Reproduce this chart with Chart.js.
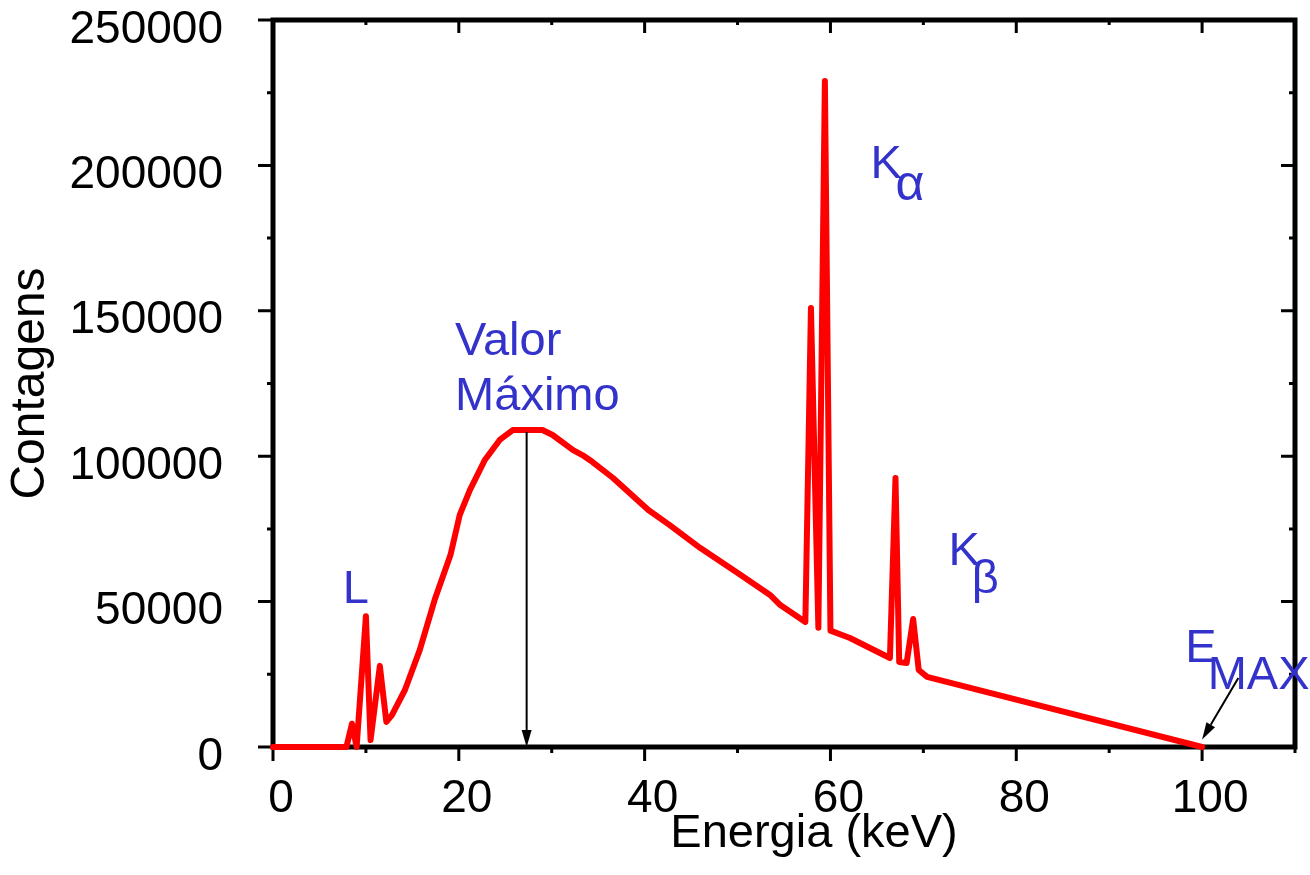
<!DOCTYPE html>
<html>
<head>
<meta charset="utf-8">
<script src="https://cdn.jsdelivr.net/npm/chart.js@4/dist/chart.umd.min.js"></script>
<style>
  html, body { margin: 0; padding: 0; background: #fff; }
  #wrap { width: 1310px; height: 875px; }
</style>
</head>
<body>
<div id="wrap"><canvas id="spectrum"></canvas></div>
<script>
// spectrum (keV, counts)
const energy = [0, 7.9, 8.5, 9.0, 10.0, 10.5, 11.5, 12.2, 12.8, 14.2, 15.8, 17.4, 19.1, 20.1,
  21.2, 22.8, 24.4, 25.8, 29.0, 30.1, 32.3, 33.3, 34.4, 36.6, 40.4, 42.7, 46.0, 50.3, 53.5,
  54.6, 57.3, 57.9, 58.7, 59.4, 60.0, 62.1, 66.4, 67.0, 67.4, 68.2, 68.9, 69.5, 70.4, 100];
const counts = [0, 0, 8000, 0, 45000, 2400, 27900, 8600, 11000, 19600, 33400, 50600, 66000, 79800,
  88400, 98700, 105600, 109000, 109000, 107300, 102100, 100400, 98000, 92500, 81500, 76300, 68400, 59200, 52300,
  48800, 43000, 151000, 41000, 229000, 40000, 37500, 30600, 92500, 29200, 28900, 44000, 26500, 24100, 0];

const xTicks = [0, 20, 40, 60, 80, 100];
const yTicks = [0, 50000, 100000, 150000, 200000, 250000];
const xMinorStep = 10;
const yMinorStep = 25000;

// labels placed in data units
const notes = [
  { text: "L", x: 7.5, y: 49500, size: 47 },
  { text: "Valor", x: 19.6, y: 134800, size: 47 },
  { text: "Máximo", x: 19.6, y: 115900, size: 47 },
  { text: "K", x: 64.3, y: 195700, size: 47 },
  { text: "α", x: 67.0, y: 188200, size: 50 },
  { text: "K", x: 72.7, y: 62600, size: 47 },
  { text: "β", x: 75.2, y: 53000, size: 47 },
  { text: "E", x: 98.2, y: 29200, size: 47 },
  { text: "MAX", x: 100.6, y: 20000, size: 47 }
];
const peakArrow = { x: 27.3, from: 108300, to: 0 };
const emaxArrow = { x1: 103.9, y1: 23700, x2: 100, y2: 2600 };

const FONT = "Arial, 'Liberation Sans', sans-serif";
const BLUE = "rgb(51,51,204)";

function arrow(ctx, x1, y1, x2, y2) {
  const a = Math.atan2(y2 - y1, x2 - x1);
  const len = 17, half = 5;
  ctx.beginPath();
  ctx.moveTo(x1, y1);
  ctx.lineTo(x2 - Math.cos(a) * len, y2 - Math.sin(a) * len);
  ctx.stroke();
  ctx.beginPath();
  ctx.moveTo(x2, y2);
  ctx.lineTo(x2 - Math.cos(a) * len - Math.sin(a) * half, y2 - Math.sin(a) * len + Math.cos(a) * half);
  ctx.lineTo(x2 - Math.cos(a) * len + Math.sin(a) * half, y2 - Math.sin(a) * len - Math.cos(a) * half);
  ctx.closePath();
  ctx.fill();
}

const frame = {
  id: "frame",
  beforeDatasetsDraw(chart) {
    const { ctx, chartArea: a, scales } = chart;
    const x = scales.x, y = scales.y;
    ctx.save();
    ctx.strokeStyle = "#000";
    ctx.lineWidth = 3;
    ctx.lineCap = "butt";
    // x ticks: outward at bottom, inward at top
    for (let v = x.min; v <= x.max + 0.001; v += xMinorStep) {
      const px = x.getPixelForValue(v);
      const major = xTicks.includes(v);
      ctx.beginPath();
      ctx.moveTo(px, a.bottom);
      ctx.lineTo(px, a.bottom + (major ? 14 : 6));
      ctx.moveTo(px, a.top);
      ctx.lineTo(px, a.top + (major ? 13 : 5));
      ctx.stroke();
    }
    // y ticks: outward at left, inward at right
    for (let v = y.min; v <= y.max + 1; v += yMinorStep) {
      const py = y.getPixelForValue(v);
      const major = yTicks.includes(v);
      ctx.beginPath();
      ctx.moveTo(a.left, py);
      ctx.lineTo(a.left - (major ? 15 : 6), py);
      ctx.moveTo(a.right, py);
      ctx.lineTo(a.right - (major ? 14 : 6), py);
      ctx.stroke();
    }
    ctx.lineWidth = 5;
    ctx.strokeRect(a.left, a.top, a.right - a.left, a.bottom - a.top);
    ctx.restore();
  },
  afterDatasetsDraw(chart) {
    const { ctx, scales } = chart;
    const x = scales.x, y = scales.y;
    ctx.save();
    ctx.fillStyle = "#000";
    ctx.strokeStyle = "#000";
    ctx.lineWidth = 2;
    arrow(ctx, x.getPixelForValue(peakArrow.x), y.getPixelForValue(peakArrow.from),
      x.getPixelForValue(peakArrow.x), y.getPixelForValue(peakArrow.to));
    arrow(ctx, x.getPixelForValue(emaxArrow.x1), y.getPixelForValue(emaxArrow.y1),
      x.getPixelForValue(emaxArrow.x2), y.getPixelForValue(emaxArrow.y2));

    ctx.fillStyle = BLUE;
    ctx.textAlign = "left";
    ctx.textBaseline = "alphabetic";
    notes.forEach(n => {
      ctx.font = n.size + "px " + FONT;
      ctx.fillText(n.text, x.getPixelForValue(n.x), y.getPixelForValue(n.y));
    });

    // x axis title
    ctx.fillStyle = "#000";
    ctx.font = "47px " + FONT;
    ctx.textAlign = "center";
    ctx.fillText("Energia (keV)", 814, 847);
    ctx.restore();
  }
};

function noPad(s) {
  s.paddingTop = 0;
  s.paddingBottom = 0;
  s.paddingLeft = 0;
  s.paddingRight = 0;
}

new Chart(document.getElementById("spectrum"), {
  type: "line",
  data: {
    datasets: [{
      data: energy.map((e, i) => ({ x: e, y: counts[i] })),
      borderColor: "#ff0000",
      borderWidth: 6,
      borderJoinStyle: "round",
      borderCapStyle: "round",
      pointRadius: 0,
      tension: 0,
      clip: 10
    }]
  },
  options: {
    responsive: true,
    maintainAspectRatio: false,
    animation: false,
    layout: { padding: { top: 20, right: 15, left: 0, bottom: 0 } },
    plugins: { legend: { display: false }, tooltip: { enabled: false } },
    scales: {
      x: {
        type: "linear",
        min: 0,
        max: 110,
        grid: { display: false, drawTicks: false },
        border: { display: false },
        ticks: {
          stepSize: 20,
          includeBounds: false,
          autoSkip: false,
          maxRotation: 0,
          labelOffset: 8,
          padding: 25,
          color: "#000",
          font: { family: FONT, size: 46 },
          callback: v => String(v)
        },
        afterFit: s => { s.height = 128; noPad(s); }
      },
      y: {
        min: 0,
        max: 250000,
        grid: { display: false, drawTicks: false },
        border: { display: false },
        ticks: {
          stepSize: 50000,
          autoSkip: false,
          labelOffset: 10,
          padding: 50,
          color: "#000",
          font: { family: FONT, size: 46 },
          callback: v => String(v)
        },
        title: {
          display: true,
          text: "Contagens",
          color: "#000",
          font: { family: FONT, size: 48 },
          padding: { top: 2, bottom: 0 }
        },
        afterFit: s => { s.width = 273; noPad(s); }
      }
    }
  },
  plugins: [frame]
});
</script>
</body>
</html>
